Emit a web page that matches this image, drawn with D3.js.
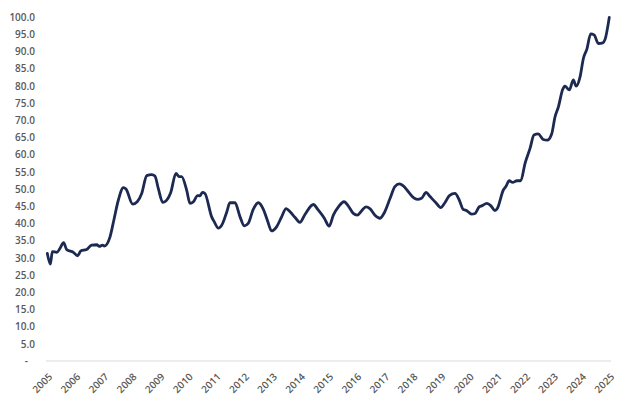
<!DOCTYPE html>
<html>
<head>
<meta charset="utf-8">
<script src="https://cdn.jsdelivr.net/npm/d3@7"></script>
<style>
  html, body { margin: 0; padding: 0; background: #fff; }
  svg { display: block; }
  text { font-family: "Open Sans", "Noto Sans", sans-serif; }
</style>
</head>
<body>
<svg id="chart" width="621" height="404"></svg>
<script>
// Readings along the line (decimal year, value)
const years = [
  2005.01, 2005.12, 2005.19, 2005.35, 2005.46, 2005.59, 2005.70, 2005.94,
  2006.09, 2006.20, 2006.41, 2006.59, 2006.77, 2006.86, 2006.98,
  2007.04, 2007.24, 2007.38, 2007.54, 2007.72, 2007.81,
  2008.05, 2008.21, 2008.37, 2008.55, 2008.73, 2008.84, 2008.96,
  2009.12, 2009.23, 2009.40, 2009.59, 2009.70, 2009.79, 2009.97,
  2010.09, 2010.21, 2010.36, 2010.44, 2010.53, 2010.62, 2010.86, 2010.95,
  2011.10, 2011.22, 2011.40, 2011.51, 2011.69, 2011.87,
  2012.02, 2012.16, 2012.34, 2012.52, 2012.70, 2012.85, 2012.99,
  2013.17, 2013.35, 2013.51, 2013.65, 2013.83,
  2014.00, 2014.18, 2014.48, 2014.65, 2014.87,
  2015.04, 2015.19, 2015.37, 2015.57, 2015.72, 2015.90,
  2016.04, 2016.20, 2016.35, 2016.49, 2016.67, 2016.85, 2016.99,
  2017.21, 2017.38, 2017.54, 2017.68, 2017.86,
  2018.04, 2018.18, 2018.33, 2018.49, 2018.63, 2018.84,
  2019.01, 2019.16, 2019.32, 2019.52, 2019.67, 2019.81, 2019.94,
  2020.11, 2020.23, 2020.38, 2020.47, 2020.65, 2020.80, 2020.94,
  2021.03, 2021.24, 2021.33, 2021.45, 2021.57, 2021.72, 2021.86,
  2022.01, 2022.19, 2022.33, 2022.48, 2022.66, 2022.80, 2022.96,
  2023.08, 2023.20, 2023.35, 2023.43, 2023.59, 2023.73, 2023.83, 2023.97,
  2024.09, 2024.21, 2024.35, 2024.47, 2024.62, 2024.78, 2024.86, 2025.01
];
const values = [
  31.3, 28.2, 31.8, 31.6, 32.7, 34.4, 32.4, 31.6,
  30.6, 32.0, 32.4, 33.7, 33.8, 33.3, 33.7,
  33.4, 36.0, 41.0, 46.8, 50.4, 50.0,
  45.6, 46.3, 48.7, 53.9, 54.2, 53.8, 50.2,
  46.1, 46.5, 48.9, 54.5, 53.6, 53.6, 49.7,
  45.8, 46.3, 48.1, 48.0, 49.0, 48.7, 41.9, 40.5,
  38.6, 39.5, 43.4, 46.0, 46.0, 41.9,
  39.3, 40.0, 44.1, 46.0, 44.1, 40.7, 37.8,
  39.0, 41.9, 44.3, 43.4, 41.7,
  40.3, 42.6, 45.5, 43.9, 41.5,
  39.2, 42.4, 44.8, 46.3, 45.1, 42.9,
  42.4, 43.7, 44.8, 44.3, 42.4, 41.5, 42.9,
  47.3, 50.7, 51.5, 50.9, 49.2,
  47.5, 47.0, 47.3, 49.0, 47.8, 46.0,
  44.6, 46.0, 48.1, 48.7, 46.8, 44.1, 43.7,
  42.7, 42.9, 44.8, 45.1, 45.8, 45.1, 43.7,
  44.4, 49.7, 50.7, 52.4, 51.9, 52.4, 52.4,
  57.4, 61.8, 65.7, 66.0, 64.4, 64.2, 66.0,
  71.0, 73.9, 78.9, 79.9, 78.8, 81.7, 79.9, 82.6,
  88.0, 90.6, 95.1, 94.8, 92.3, 92.5, 93.5, 99.9
];
const xTickYears = d3.range(2005, 2026);
const yTicks = d3.range(0, 101, 5);

const svg = d3.select("#chart");
const x = d3.scaleLinear().domain([2005, 2025]).range([47, 609]);
const y = d3.scaleLinear().domain([0, 100]).range([361, 17]);

// baseline
svg.append("line")
  .attr("x1", 46).attr("x2", 611)
  .attr("y1", y(0)).attr("y2", y(0))
  .attr("stroke", "#d9d9d9").attr("stroke-width", 1);

// y labels
const yAxis = d3.axisLeft(y).tickValues(yTicks).tickSize(0)
  .tickFormat(d => d === 0 ? "-" : d3.format(".1f")(d));
const gy = svg.append("g").attr("transform", "translate(35,0)").call(yAxis);
gy.select(".domain").remove();
gy.selectAll("text")
  .attr("x", 0)
  .attr("font-family", "'Open Sans', sans-serif")
  .attr("font-size", 10)
  .attr("font-weight", 600)
  .attr("fill", "#595959");
gy.selectAll("text").filter(d => d === 0).attr("x", -7);

// x labels
const xAxis = d3.axisBottom(x).tickValues(xTickYears).tickSize(0).tickFormat(d3.format("d"));
const gx = svg.append("g").attr("transform", `translate(0,${y(0)})`).call(xAxis);
gx.select(".domain").remove();
gx.selectAll("text")
  .attr("font-family", "'Open Sans', sans-serif")
  .attr("font-size", 10)
  .attr("font-weight", 600)
  .attr("fill", "#595959")
  .attr("text-anchor", "end")
  .attr("x", 0).attr("y", 0).attr("dy", "0.35em")
  .attr("transform", "translate(3,14) rotate(-45)");

// line
const data = years.map((yr, i) => [yr, values[i]]);
svg.append("path")
  .datum(data)
  .attr("fill", "none")
  .attr("stroke", "#1c2951")
  .attr("stroke-width", 2.8)
  .attr("stroke-linejoin", "round")
  .attr("stroke-linecap", "round")
  .attr("d", d3.line().x(d => x(d[0])).y(d => y(d[1])).curve(d3.curveMonotoneX));
</script>
</body>
</html>
